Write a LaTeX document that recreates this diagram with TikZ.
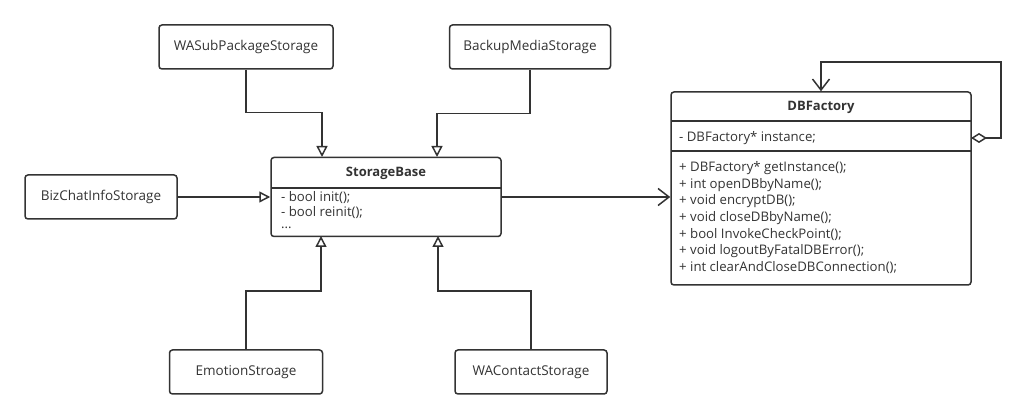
\documentclass[tikz,border=0pt]{standalone}
\usepackage{fontspec}
\setmainfont{Open Sans}
\usetikzlibrary{arrows.meta, positioning}
\definecolor{ink}{HTML}{333333}

\tikzset{
  box/.style={draw=ink, line width=1.5pt, rounded corners=3pt, fill=white,
    minimum height=44pt, text=ink, font=\fontsize{13.5}{16}\selectfont},
  classbox/.style={draw=ink, line width=1.5pt, rounded corners=3pt},
  title/.style={text=ink, font=\fontsize{13}{16}\selectfont\bfseries},
  member/.style={anchor=west, text=ink, inner sep=0pt, font=\fontsize{13.2}{15}\selectfont},
  gen/.style={draw=ink, line width=1.5pt, -{Triangle[open, length=11pt, width=11pt, line width=1.5pt]}},
  assoc/.style={draw=ink, line width=1.5pt, -{Straight Barb[length=11pt, width=17pt, line width=1.5pt]}},
  aggr/.style={draw=ink, line width=1.5pt, {Diamond[open, length=16pt, width=10pt, line width=1.5pt]}-{Straight Barb[length=11pt, width=17pt, line width=1.5pt]}}
}

\begin{document}
\begin{tikzpicture}[x=1pt, y=-1pt]
    \useasboundingbox (0,0) rectangle (1026,419);

    % storage classes
    \node[box, minimum width=174pt] (sub) at (246, 47) {WASubPackageStorage};
    \node[box, minimum width=161pt] (backup) at (530, 47) {BackupMediaStorage};
    \node[box, minimum width=152pt] (biz) at (101, 197) {BizChatInfoStorage};
    \node[box, minimum width=153pt] (emotion) at (246, 372) {EmotionStroage};
    \node[box, minimum width=152pt] (contact) at (531, 372) {WAContactStorage};

    % StorageBase
    \node[classbox, minimum width=230pt, minimum height=79pt] (base) at (386, 197) {};
    \draw[ink, line width=1.5pt] (271, 188) -- (501, 188);
    \node[title] (basetitle) at (386, 173) {StorageBase};
    \node[member] (bm1) at (281, 198) {- bool init();};
    \node[member] (bm2) at (281, 213) {- bool reinit();};
    \node[member] (bm3) at (281, 228) {...};

    % DBFactory
    \node[classbox, minimum width=300pt, minimum height=193pt] (dbf) at (821, 188.5) {};
    \draw[ink, line width=1.5pt] (671, 121) -- (971, 121);
    \draw[ink, line width=1.5pt] (671, 151) -- (971, 151);
    \node[title] (dbftitle) at (821, 107) {DBFactory};
    \node[member] (attr) at (679, 138) {- DBFactory* instance;};
    \foreach \txt [count=\i from 0] in {+ DBFactory* getInstance();, + int openDBbyName();,
        + void encryptDB();, + void closeDBbyName();, + bool InvokeCheckPoint();,
        + void logoutByFatalDBError();, + int clearAndCloseDBConnection();}
        \node[member] (op\i) at (679, 168 + 16.6*\i) {\txt};

    % connector ends
    \coordinate (b1) at (322, 157);
    \coordinate (b2) at (437, 157);
    \coordinate (b3) at (321, 236);
    \coordinate (b4) at (438, 236);
    \coordinate (dself) at (971, 138);

    \draw[gen] (sub.south) -- ++(0, 43) -| (b1);
    \draw[gen] (backup.south) -- ++(0, 44) -| (b2);
    \draw[gen] (emotion.north) -- ++(0, -58) -| (b3);
    \draw[gen] (contact.north) -- ++(0, -58) -| (b4);
    \draw[gen] (biz.east) -- (biz.east -| base.west);
    \draw[assoc] (base.east) -- (base.east -| dbf.west);
    \draw[aggr] (dself) -| ++(30, -76) -| (dbf.north);
\end{tikzpicture}
\end{document}
